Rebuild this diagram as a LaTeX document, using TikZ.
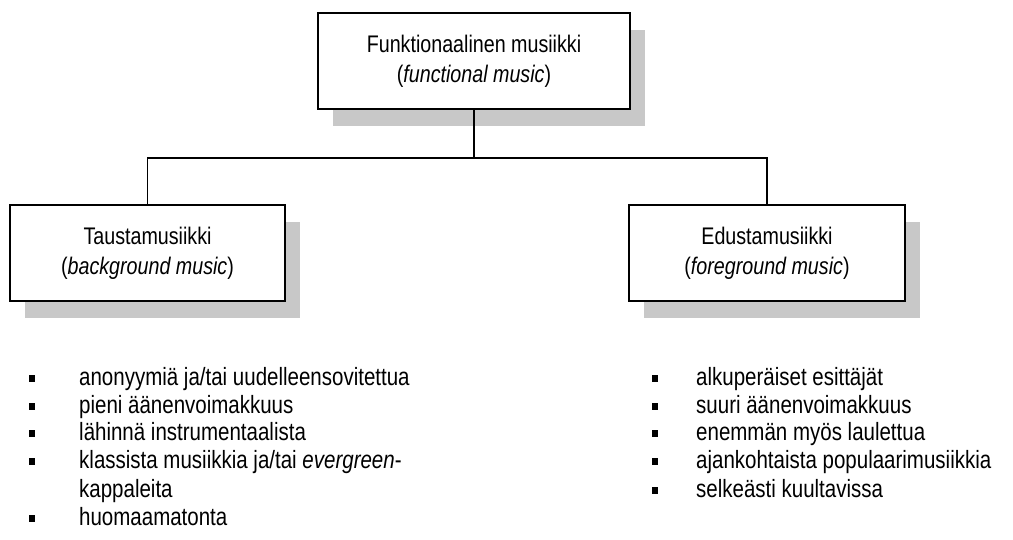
\documentclass[tikz,border=0pt]{standalone}
\usepackage{fontspec}
\setmainfont{Liberation Sans}[FakeStretch=0.82]
\usetikzlibrary{shadows}
\definecolor{shadowgray}{RGB}{200,200,200}
\tikzset{
  x=1pt, y=-1pt,
  box/.style={draw=black, line width=1.5pt, fill=white, inner sep=0pt,
    align=center, font=\fontsize{24}{30}\selectfont,
    drop shadow={shadow xshift=15pt, shadow yshift=-17pt, fill=shadowgray,
      draw=none, opacity=1}},
  link/.style={draw=black, line width=1.5pt},
  item/.style={anchor=base west, inner sep=0pt, font=\fontsize{25}{28}\selectfont},
  bullet/.style={rectangle, fill=black, inner sep=0pt, minimum width=6pt, minimum height=7pt}
}
\begin{document}
\begin{tikzpicture}
  \useasboundingbox (0,0) rectangle (1013,540);

  % category boxes
  \node[box, minimum width=312pt, minimum height=96pt] (top) at (474,61)
    {Funktionaalinen musiikki\\(\textit{functional music})};
  \node[box, minimum width=275pt, minimum height=96pt] (bg) at (147.5,253)
    {Taustamusiikki\\(\textit{background music})};
  \node[box, minimum width=276pt, minimum height=96pt] (fg) at (767,253)
    {Edustamusiikki\\(\textit{foreground music})};

  % tree connectors
  \coordinate (hub) at (474,158);
  \draw[link] (top.south) -- (hub);
  \draw[link] (bg.north) |- (hub) -| (fg.north);

  % background music properties
  \node[item] (a1) at (79,385) {anonyymiä ja/tai uudelleensovitettua};
  \node[item] (a2) at (79,413) {pieni äänenvoimakkuus};
  \node[item] (a3) at (79,440) {lähinnä instrumentaalista};
  \node[item] (a4) at (79,468) {klassista musiikkia ja/tai \textit{evergreen}-};
  \node[item] (a4b) at (79,497) {kappaleita};
  \node[item] (a5) at (79,525) {huomaamatonta};
  \foreach \n in {a1,a2,a3,a4,a5}
    \node[bullet] (dot-\n) at ([xshift=-47pt, yshift=7pt]\n.base west) {};

  % foreground music properties
  \node[item] (b1) at (696,385) {alkuperäiset esittäjät};
  \node[item] (b2) at (696,413) {suuri äänenvoimakkuus};
  \node[item] (b3) at (696,440) {enemmän myös laulettua};
  \node[item] (b4) at (696,468) {ajankohtaista populaarimusiikkia};
  \node[item] (b5) at (696,497) {selkeästi kuultavissa};
  \foreach \n in {b1,b2,b3,b4,b5}
    \node[bullet] (dot-\n) at ([xshift=-41pt, yshift=7pt]\n.base west) {};
\end{tikzpicture}
\end{document}
